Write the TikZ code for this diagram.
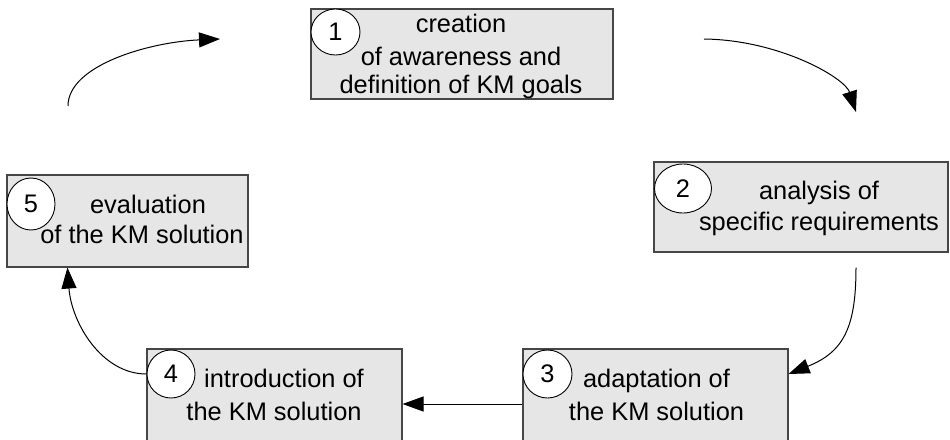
\documentclass[tikz,border=0pt]{standalone}
\usepackage{fontspec}
\setmainfont{Liberation Sans}
\usetikzlibrary{arrows.meta,calc,shapes.geometric}
\definecolor{boxfill}{RGB}{230,230,230}
\definecolor{boxline}{RGB}{70,70,70}
\begin{document}
\begin{tikzpicture}[x=1pt,y=-1pt,
  stepbox/.style={draw=boxline,line width=1.1pt,fill=boxfill,rectangle,inner sep=0pt},
  numdisc/.style={draw=black,line width=0.9pt,fill=white,ellipse,inner sep=0pt,
    font=\fontsize{25.4}{30}\selectfont},
  lbl/.style={anchor=base,inner sep=0pt,font=\fontsize{25.4}{30}\selectfont},
  flow/.style={line width=1pt,-{Triangle[length=21pt,width=15pt]}}]
\useasboundingbox (0,0) rectangle (950,439);
\clip (0,0) rectangle (950,439);

% phase boxes
\node[stepbox,minimum width=302pt,minimum height=90pt] (b1) at (462,54) {};
\node[stepbox,minimum width=294pt,minimum height=90pt] (b2) at (801,207) {};
\node[stepbox,minimum width=265pt,minimum height=110pt] (b3) at (655.5,404) {};
\node[stepbox,minimum width=255pt,minimum height=110pt] (b4) at (274.5,404) {};
\node[stepbox,minimum width=241pt,minimum height=92pt] (b5) at (127.5,221) {};

% phase numbers
\node[numdisc,minimum width=49pt,minimum height=46pt] (c1) at (335.5,32) {1};
\node[numdisc,minimum width=57pt,minimum height=49pt] (c2) at (683,188.5) {2};
\node[numdisc,minimum width=49pt,minimum height=48pt] (c3) at (547.5,374) {3};
\node[numdisc,minimum width=48pt,minimum height=48pt] (c4) at (171,374) {4};
\node[numdisc,minimum width=48pt,minimum height=52pt] (c5) at (31,204) {5};

% phase texts
\node[lbl] (t1a) at (461,32) {creation};
\node[lbl] (t1b) at (461,65) {of awareness and};
\node[lbl] (t1c) at (461,93) {definition of KM goals};
\node[lbl] (t2a) at (819,199) {analysis of};
\node[lbl] (t2b) at (819,230) {specific requirements};
\node[lbl] (t3a) at (656.5,387) {adaptation of};
\node[lbl] (t3b) at (656.5,420) {the KM solution};
\node[lbl] (t4a) at (284,387) {introduction of};
\node[lbl] (t4b) at (274,420) {the KM solution};
\node[lbl] (t5a) at (148,213) {evaluation};
\node[lbl] (t5b) at (142,243) {of the KM solution};

% free ends of the cycle arrows
\coordinate (a0) at (68,106);
\coordinate (a1) at (220,39);
\coordinate (r0) at (704,39);
\coordinate (r1) at (856,112);

% cycle arrows
\draw[flow] (a0) .. controls (68,65) and (150,42) .. (a1);
\draw[flow] (r0) .. controls (780,40) and (845,78) .. (r1);
\draw[flow] ($(b2.south)+(55,15)$) .. controls +(0,60) and +(55,-22) .. (b3.east |- c3.center);
\draw[flow] (b3.west) -- (b4.east);
\draw[flow] (b4.west |- c4.center) .. controls +(-45,0) and +(4,55) .. ($(b5.south west)+(61,0)$);
\end{tikzpicture}
\end{document}
